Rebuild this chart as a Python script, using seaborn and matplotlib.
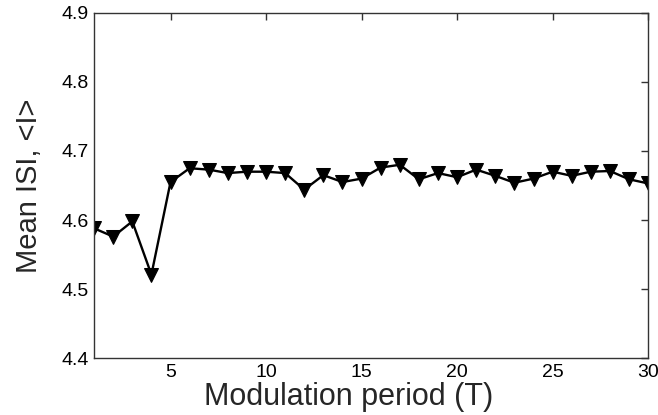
import matplotlib
matplotlib.use("Agg")
import matplotlib.pyplot as plt
import seaborn as sns
import pandas as pd

period = list(range(1, 31))
mean_isi = [4.588, 4.576, 4.598, 4.521, 4.655, 4.675, 4.673, 4.668, 4.670, 4.670,
            4.668, 4.644, 4.665, 4.655, 4.660, 4.676, 4.680, 4.659, 4.668, 4.662,
            4.673, 4.664, 4.654, 4.660, 4.670, 4.664, 4.670, 4.671, 4.659, 4.653]
x_ticks = [5, 10, 15, 20, 25, 30]
y_ticks = [4.4, 4.5, 4.6, 4.7, 4.8, 4.9]

df = pd.DataFrame({"T": period, "ISI": mean_isi})

sns.set_style("white")
plt.rcParams["font.family"] = ["Liberation Sans", "DejaVu Sans"]

fig = plt.figure(figsize=(6.58, 4.15), dpi=100)
ax = fig.add_axes([0.143, 0.137, 0.842, 0.832])

sns.lineplot(data=df, x="T", y="ISI", ax=ax, color="black", linewidth=1.7,
             marker="v", markersize=10, markeredgecolor="black",
             markerfacecolor="black")

ax.set_xlim(1, 30)
ax.set_ylim(4.4, 4.9)
ax.set_xticks(x_ticks)
ax.set_xticklabels([str(t) for t in x_ticks])
ax.set_yticks(y_ticks)
ax.set_yticklabels([f"{t:.1f}" for t in y_ticks])

ax.tick_params(axis="both", which="both", direction="in", length=5, width=1,
               color="#333333", labelsize=14, top=True, right=True,
               labelcolor="black")
ax.tick_params(axis="x", pad=4)
ax.tick_params(axis="y", pad=4)

for s in ax.spines.values():
    s.set_visible(True)
    s.set_color("#333333")
    s.set_linewidth(1.0)

ax.set_xlabel("Modulation period (T)", fontsize=22)
ax.xaxis.set_label_coords(0.46, -0.136, transform=ax.transAxes)
ax.xaxis.label.set_va("baseline")
ax.set_ylabel("Mean ISI, <I>", fontsize=21, labelpad=13)

fig.savefig("out.png", dpi=100)
